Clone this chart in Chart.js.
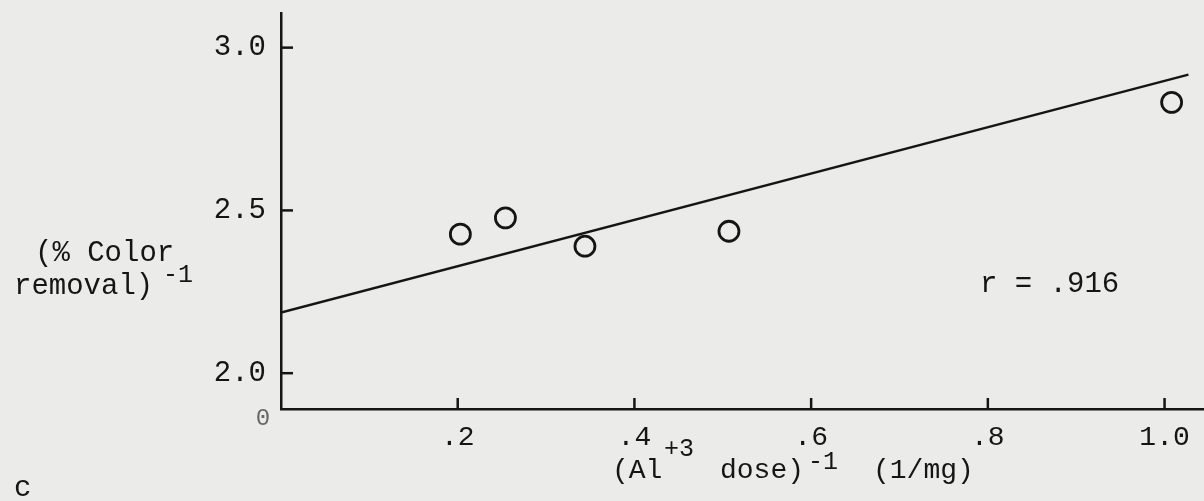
<!DOCTYPE html>
<html><head><meta charset="utf-8">
<script src="https://cdn.jsdelivr.net/npm/chart.js@4/dist/chart.umd.min.js"></script>
<style>html,body{margin:0;padding:0;background:#ebebea;overflow:hidden;}#wrap{width:1204px;height:501px;position:relative;overflow:hidden;}</style>
</head><body><div id="wrap"><canvas id="c" width="1218" height="501"></canvas></div>
<script>
const doseInv = [0.203, 0.254, 0.344, 0.507, 1.008];
const colorInv = [2.427, 2.477, 2.390, 2.436, 2.832];
const fitX = [0, 1.027];
const fitY = [2.186, 2.917];
const xTicks = [0.2, 0.4, 0.6, 0.8, 1.0];
const xTickLabels = ['.2', '.4', '.6', '.8', '1.0'];
const yTicks = [2.0, 2.5, 3.0];
const yTickLabels = ['2.0', '2.5', '3.0'];
const rText = 'r = .916';

const INK = '#151515';
const FONT = 'Liberation Mono';

const overlay = {
  id: 'overlay',
  afterDraw(chart) {
    const ctx = chart.ctx, xs = chart.scales.x, ys = chart.scales.y;
    ctx.save();
    ctx.strokeStyle = INK; ctx.lineWidth = 2.5;
    const x0 = xs.left, y0 = ys.bottom;
    yTicks.forEach(v => { const y = ys.getPixelForValue(v); ctx.beginPath(); ctx.moveTo(x0, y); ctx.lineTo(x0 + 12, y); ctx.stroke(); });
    xTicks.forEach(v => { const x = xs.getPixelForValue(v); ctx.beginPath(); ctx.moveTo(x, y0); ctx.lineTo(x, y0 - 11); ctx.stroke(); });
    ctx.fillStyle = INK;
    ctx.textBaseline = 'middle';
    const f = s => `${s}px "${FONT}"`;
    ctx.font = f(24); ctx.textAlign = 'center';
    ctx.fillStyle = '#666'; ctx.fillText('0', 263, 419); ctx.fillStyle = INK;
    ctx.font = f(29); ctx.textAlign = 'left';
    ctx.fillText('(% Color', 35, 253);
    ctx.fillText('removal)', 14, 286);
    ctx.font = f(25); ctx.fillText('-1', 163, 275);
    ctx.font = f(28);
    ctx.fillText('(Al', 612, 471);
    ctx.font = f(25); ctx.fillText('+3', 664, 449);
    ctx.font = f(28); ctx.fillText('dose)', 720, 471);
    ctx.font = f(25); ctx.fillText('-1', 808, 462);
    ctx.font = f(28); ctx.fillText('(1/mg)', 873, 471);
    ctx.font = f(29);
    ctx.fillText(rText, 980, 284);
    ctx.fillText('c', 14, 488);
    ctx.restore();
  }
};

new Chart(document.getElementById('c'), {
  type: 'scatter',
  data: {
    datasets: [
      { label: 'fit', type: 'line', data: fitX.map((v, i) => ({x: v, y: fitY[i]})), borderColor: INK, borderWidth: 2.5, pointRadius: 0, fill: false, tension: 0 },
      { label: 'data', data: doseInv.map((v, i) => ({x: v, y: colorInv[i]})), pointStyle: 'circle', pointRadius: 10, borderColor: INK, borderWidth: 2.8, backgroundColor: 'rgba(0,0,0,0)' }
    ]
  },
  options: {
    responsive: false, animation: false, devicePixelRatio: 1,
    layout: { padding: { top: 10, right: 0, left: 0, bottom: 0 } },
    plugins: { legend: { display: false }, tooltip: { enabled: false } },
    scales: {
      x: {
        type: 'linear', min: 0, max: 1.046,
        afterBuildTicks: s => { s.ticks = xTicks.map(v => ({value: v})); },
        afterFit: s => { s.height = 92; s.paddingLeft = 0; s.paddingRight = 0; },
        grid: { display: true, drawOnChartArea: false, drawTicks: false },
        border: { display: true, color: INK, width: 2.5 },
        ticks: { padding: 12, color: INK, font: { family: FONT, size: 28 }, callback: (v) => xTickLabels[xTicks.indexOf(+v.toFixed(1))] ?? '' }
      },
      y: {
        type: 'linear', min: 1.89, max: 3.107,
        afterBuildTicks: s => { s.ticks = yTicks.map(v => ({value: v})); },
        afterFit: s => { s.width = 281; s.paddingTop = 0; s.paddingBottom = 0; },
        grid: { display: true, drawOnChartArea: false, drawTicks: false },
        border: { display: true, color: INK, width: 2.5 },
        ticks: { padding: 15, color: INK, font: { family: FONT, size: 29 }, callback: (v) => yTickLabels[yTicks.indexOf(+v.toFixed(1))] ?? '' }
      }
    }
  },
  plugins: [overlay]
});
</script></body></html>
